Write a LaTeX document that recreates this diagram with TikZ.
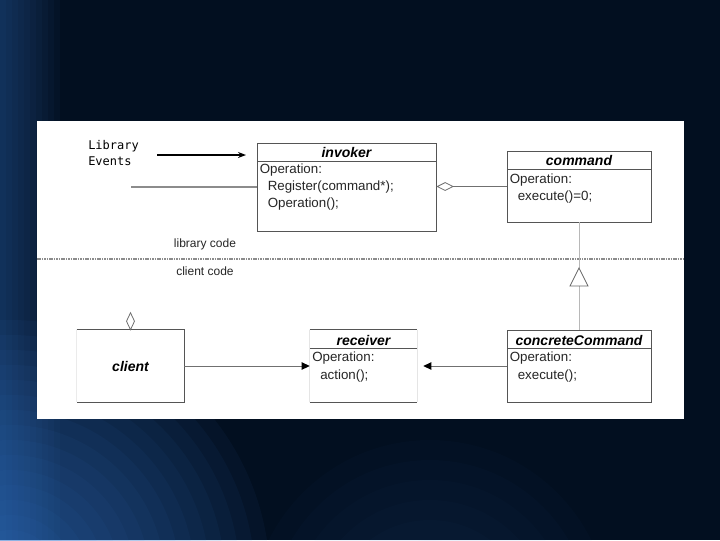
\documentclass[tikz,border=0pt]{standalone}
\usepackage{fontspec}
\setmainfont{Liberation Sans}
\newfontfamily\monof{DejaVu Sans Mono}
\usetikzlibrary{arrows.meta}
\definecolor{bgnavy}{HTML}{020F20}
\definecolor{bgblue}{HTML}{3A7BD0}
\definecolor{boxline}{HTML}{555555}
\definecolor{conline}{HTML}{707070}
\definecolor{lightline}{HTML}{B8B8B8}
\begin{document}
\begin{tikzpicture}[x=0.75pt,y=-0.75pt,
  umlbox/.style 2 args={rectangle,minimum width=#1*0.75pt,minimum height=#2*0.75pt,inner sep=0pt,draw=boxline,line width=0.7pt},
  plainbox/.style 2 args={rectangle,minimum width=#1*0.75pt,minimum height=#2*0.75pt,inner sep=0pt},
  title/.style={font=\fontsize{10.5}{12}\selectfont\bfseries\itshape,inner sep=0pt},
  optxt/.style={font=\fontsize{10}{12}\selectfont,inner sep=0pt,anchor=west,text=black!85},
  lbl/.style={font=\fontsize{9}{11}\selectfont,inner sep=0pt,text=black!85},
  conn/.style={draw=conline,line width=0.7pt},
  sepline/.style={boxline,line width=0.7pt},
  headtip/.tip={Triangle[length=6pt,width=5.5pt,fill=black,color=black]},
]
% background
\useasboundingbox (0,0) rectangle (720,540);
\fill[bgnavy] (0,0) rectangle (720,540);
\begin{scope}
\clip (0,0) rectangle (720,540);
\foreach \w in {6,12,...,60} \fill[bgblue,opacity=0.045] (0,0) rectangle (\w,540);
\foreach \r in {20,35,...,260} \fill[bgblue,opacity=0.055] (10,580) circle (\r);
\foreach \r in {20,40,...,180} \fill[bgblue,opacity=0.025] (430,620) circle (\r);
\end{scope}
% panel
\fill[white] (37,121) rectangle (684,419);

% library events
\node[font=\monof\fontsize{9}{12}\selectfont,align=left,anchor=north west,inner sep=0pt] (evt) at (88,140) {Library\\Events};
\coordinate (evs) at (157,155);
\coordinate (eve) at (246,155);
\draw[line width=1.3pt,-{Stealth[length=6pt,width=4.5pt]}] (evs) -- (eve);

% boxes
\node[umlbox={179}{88}] (inv) at (346.5,187) {};
\node[umlbox={144}{71}] (cmd) at (579,186.5) {};
\node[plainbox={107}{72}] (cli) at (130.5,366) {};
\node[plainbox={107}{72}] (rec) at (363.5,366) {};
\node[umlbox={144}{72}] (con) at (579,366) {};

% invoker
\draw[sepline] (257,161) -- (436,161);
\node[title] (invt) at (346.5,152.5) {invoker};
\node[optxt] (inv1) at (259.5,170) {Operation:};
\node[optxt] (inv2) at (267.5,187) {Register(command*);};
\node[optxt] (inv3) at (267.5,204) {Operation();};

% command
\draw[sepline] (507,169) -- (651,169);
\node[title] (cmdt) at (579,160.5) {command};
\node[optxt] (cmd1) at (509.5,180) {Operation:};
\node[optxt] (cmd2) at (517.5,197) {execute()=0;};

% client
\draw[sepline] (cli.north west) -- (cli.north east) -- (cli.south east) -- (cli.south west);
\draw[black!8,line width=0.5pt] (cli.north west) -- (cli.south west);
\node[title] (clit) at (130.5,366) {client};
\draw[conline,line width=0.6pt] (cli.north) -- ++(-4,-8.5) -- ++(4,-8.5) -- ++(4,8.5) -- cycle;

% receiver
\draw[sepline] (rec.north west) -- (rec.north east);
\draw[sepline] (rec.south west) -- (rec.south east);
\draw[black!10,line width=0.5pt] (rec.north west) -- (rec.south west) (rec.north east) -- (rec.south east);
\draw[sepline] (310,348) -- (417,348);
\node[title] (rect) at (363.5,340) {receiver};
\node[optxt] (rec1) at (312,358) {Operation:};
\node[optxt] (rec2) at (320,376) {action();};

% concrete command
\draw[sepline] (507,348) -- (651,348);
\node[title] (cont) at (579,340) {concreteCommand};
\node[optxt] (con1) at (509.5,358) {Operation:};
\node[optxt] (con2) at (517.5,376) {execute();};

% separator
\draw[black!45,line width=1pt,dash pattern=on 1.2pt off 0.6pt] (37,259) -- (684,259);
\node[lbl] (libc) at (205,244) {library code};
\node[lbl] (clic) at (205,271) {client code};

% connectors
\coordinate (libin) at (131,187);
\draw[conn,draw=black!45,line width=1pt] (libin) -- (libin -| inv.west);
\draw[conn,-{Diamond[open,length=13pt,width=6.5pt,line width=0.6pt]}] (cmd.west) -- (cmd.west -| inv.east);
\coordinate (genapex) at (579,268);
\coordinate (genbase) at (579,286);
\draw[lightline,line width=0.6pt] (cmd.south) -- (genapex);
\draw[lightline,line width=0.6pt] (con.north) -- (genbase);
\draw[black!60,line width=0.6pt] (genapex) -- ++(-9,18) -- ++(18,0) -- cycle;
\draw[conn,-headtip] (cli.east) -- (rec.west);
\draw[conn,-headtip] (con.west) -- ([xshift=4.5pt]rec.east);
\end{tikzpicture}
\end{document}
